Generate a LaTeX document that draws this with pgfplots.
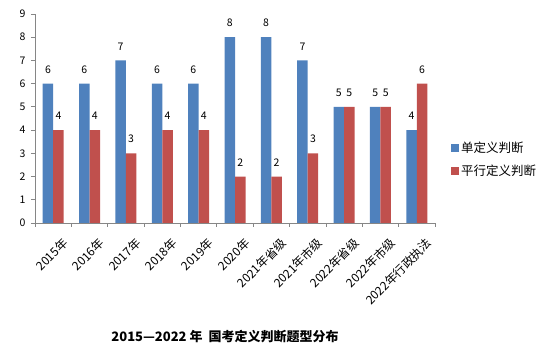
\documentclass[border=0pt]{standalone}
\usepackage{pgfplots}
\pgfplotsset{compat=1.18}
\usepackage{fontspec}
\setmainfont{Noto Sans CJK SC}
\definecolor{sblue}{HTML}{4F81BD}
\definecolor{sred}{HTML}{C0504D}
\definecolor{axgray}{HTML}{868686}
\begin{document}
\begin{tikzpicture}
\path[use as bounding box] (-35pt,-129pt) rectangle (520pt,223pt);
\begin{axis}[
  at={(0pt,0pt)}, anchor=south west,
  scale only axis, width=400pt, height=209pt,
  ymin=0, ymax=9, ytick={0,1,...,9},
  xmin=-0.5, xmax=10.5,
  xtick={-0.5,0.5,1.5,2.5,3.5,4.5,5.5,6.5,7.5,8.5,9.5,10.5},
  x tick label as interval,
  xticklabels={2015年,2016年,2017年,2018年,2019年,2020年,2021年省级,2021年市级,2022年省级,2022年市级,2022年行政执法,},
  xticklabel style={rotate=45, anchor=north east, inner sep=0pt, xshift=-1pt, yshift=-13pt, font=\fontsize{12}{14}\selectfont},
  yticklabel style={font=\fontsize{10.5}{12}\selectfont, xshift=-2pt},
  /pgf/number format/assume math mode=true,
  ybar=0pt, bar width=10.5pt,
  axis x line*=bottom, axis y line*=left,
  axis line style={axgray, line width=0.8pt},
  tick align=outside, major tick length=4pt,
  tick style={axgray, line width=0.8pt},
  clip=false,
  nodes near coords,
  nodes near coords style={font=\fontsize{10.5}{12}\selectfont, inner sep=0pt, anchor=south, yshift=10pt, text=black},
  legend style={at={(1.04,0.304)}, anchor=west, draw=none, fill=none, inner sep=0pt,
    font=\fontsize{12.5}{14}\selectfont, row sep=6pt, legend cell align=left},
  legend image code/.code={\fill[#1] (0pt,-4pt) rectangle (8pt,4pt);},
]
\addplot[fill=sblue, draw=none] coordinates {(0,6) (1,6) (2,7) (3,6) (4,6) (5,8) (6,8) (7,7) (8,5) (9,5) (10,4)};
\addplot[fill=sred, draw=none] coordinates {(0,4) (1,4) (2,3) (3,4) (4,4) (5,2) (6,2) (7,3) (8,5) (9,5) (10,6)};
\legend{单定义判断,平行定义判断}
\end{axis}
\node[font=\fontsize{13}{15}\selectfont\bfseries] at (190pt,-114pt) {2015—2022 年\ \ 国考定义判断题型分布};
\end{tikzpicture}
\end{document}
